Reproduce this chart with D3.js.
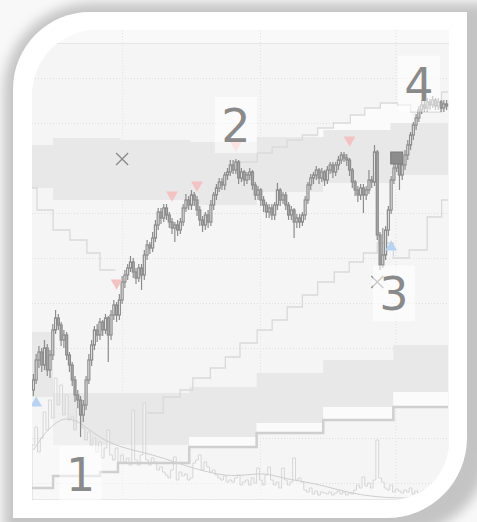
<!DOCTYPE html>
<html lang="en">
<head>
<meta charset="UTF-8">
<title>Price chart</title>
<script src="https://cdn.jsdelivr.net/npm/d3@7"></script>
<style>
  html, body { margin: 0; padding: 0; background: #f8f8f8; }
  svg { display: block; }
</style>
</head>
<body>
<svg id="chart" width="477" height="522"></svg>
<script>
// candles
const opens = [155,160,170,174,167.5,176,165,172.5,185,191,
  187.5,180,182.5,172.5,167.5,160,152.5,150,142.5,147.5,
  160,170,177.5,185,182.5,189,185,191,182.5,192.5,
  197.5,192.5,200,209,212.5,216,219,214,211,216,
  212.5,222.5,227.5,226,231,237.5,244,241,246,242.5,
  239,236,237.5,235,239,246,250,247.5,252.5,250,
  245,240,237.5,242.5,239,247.5,252.5,256,259,257.5,
  262.5,264,267.5,265,269,261,264,260,262.5,264,
  257.5,252.5,255,250,247.5,244,246,242.5,247.5,255,
  250,252.5,247.5,242.5,245,239,241,239,242.5,250,
  257.5,261,262.5,265,261,264,260,265,267.5,264,
  267.5,270,272.5,271,270,265,259,255,252.5,256,
  252.5,255,260,259,274,232.5,217.5,222.5,235,245,
  260,266,270,262.5,267.5,272.5,277.5,282.5,287.5,291,
  295,297.5,296,299,297.5,300,297,299,296,298];
const closes = [160,170,174,167.5,176,165,172.5,185,191,187.5,
  180,182.5,172.5,167.5,160,152.5,150,142.5,147.5,160,
  170,177.5,185,182.5,189,185,191,182.5,192.5,197.5,
  192.5,200,209,212.5,216,219,214,211,216,212.5,
  222.5,227.5,226,231,237.5,244,241,246,242.5,239,
  236,237.5,235,239,246,250,247.5,252.5,250,245,
  240,237.5,242.5,239,247.5,252.5,256,259,257.5,262.5,
  264,267.5,265,269,261,264,260,262.5,264,257.5,
  252.5,255,250,247.5,244,246,242.5,247.5,255,250,
  252.5,247.5,242.5,245,239,241,239,242.5,250,257.5,
  261,262.5,265,261,264,260,265,267.5,264,267.5,
  270,272.5,271,270,265,259,255,252.5,256,252.5,
  255,260,259,274,232.5,217.5,222.5,235,245,260,
  266,270,262.5,267.5,272.5,277.5,282.5,287.5,291,295,
  297.5,296,299,297.5,300,297,299,296,298,297];
const highs = [163,173,177,176,180,178,175,188,195,193,
  189,185,184,174,169,162,155,152,150,162,
  173,180,187,188,191,190,193,192,195,200,
  199,203,212,215,218,222,221,216,218,218,
  225,230,229,234,240,246,246,248,248,244,
  241,239,240,241,248,253,252,255,254,252,
  247,242,244,245,250,254,258,261,261,264,
  266,270,270,270.5,270,266,265,264,266,265,
  259,257,256,252,249,248,248,249,258.5,256,
  254,254,249,247,246,243,243,244,252,259,
  263,264,267,266,266,265,267,269,269,269,
  272,274,274,273,271,266,260,257,258,258,
  257,265,262,277.5,275,234,236,237,247,262,
  268,272,271,269,275,280,284,289,293,297,
  300,300,301,300.5,302,301,301,300,300,300];
const lows = [152,158,166,164,165,162,161,170,183,185,
  177,176,170,164,157,149,146,131.5,139,145,
  158,167,175,179,180,182,183,169,180,190,
  189,190,198,206,210,214,211,208,209,205,
  210,220,223,224,229,235,238,239,240,236,
  233,229,232,233,237,244,245,245,247,242,
  237,234,235,236,237,245,250,254,255,255,
  260,262,263,263,258,259,257,258,260,255,
  250,250,247,244,241,241,240,240,245,247,
  248,245,240,240,231,236,236,237,240,248,
  255,258,260,258,259,257,258,263,261,262,
  265,268,269,267,262,256,252,249,250,243.5,
  250,253,256,257,230,215,216,220,232,243,
  258,264,255,260,265,270,275,280,285,289,
  293,294,294,295,296,295,295,294,294,295];
const volumes = [55,73,48,62,88,70,100,82,122,95,
  115,85,105,80,83,70,92,100,72,60,
  68,55,62,48,58,42,52,70,45,40,
  52,38,45,38,42,35,90,40,35,45,
  97,40,35,42,38,30,33,28,25,22,
  30,43,20,28,24,26,20,22,37,40,
  45,30,38,33,28,30,25,22,20,24,
  18,20,18,22,25,15,18,20,15,22,
  17,32,20,15,25,33,20,15,18,12,
  32,20,15,18,42,20,22,18,10,8,
  12,6,9,5,8,7,6,8,5,7,
  9,6,8,5,7,6,10,15,12,23,
  14,17,12,20,60,22,18,12,10,15,
  8,11,9,7,10,8,12,6,9,7,
  8,10,6,9,7,8,6,9,7,8];

// slow indicator line drawn over the volume pane
const slowIdx = [0,4,8,11,15,18,24,31,39,47,56,63,71,82,86,93,101,110,118,125,130,149];
const slowVals = [50,67,77,82,80,75,62,53,48,42,33,28,23,27,25,20,17,10,5,3,2,1];

// clouds (step segments, index where each starts)
const upCloudIdx = [0,7.6,31.8,57,81,105,129.2];
const upCloudTop = [277.5,281,280,279,281.5,285,288.5];
const upCloudBot = [256,250,250,247.5,254,258.5,262.5];
const lowCloudIdx = [0,7.6,56.7,81,105,130.3];
const lowCloudTop = [184,153.5,156.5,163.5,170,177.5];
const lowCloudBot = [151.5,127.5,131.5,138.5,146.5,154];

// step lines
const fallIdx = [0,1.8,7.6,13.7,19.8,24.5];
const fallVals = [256,245,235,230,223.5,215];
const fallEnd = 30;
const ceilIdx = [74,81.2,86.6,92,97.5,103,108.7,114.8,120,125.6,131.8,136.5,147.7];
const ceilVals = [269,273.5,276.5,280,282.5,286,288.5,292.5,296,298.5,297.5,294,304];
const riseIdx = [41.5,47.3,53.4,58,64.3,69.7,75,81.2,86.6,92,97.5,103,109,114.4,119.5,124.5,130.3,136,142.5,147.7];
const riseVals = [143.5,151.5,155,161,166,171.5,178.5,185,190,196.5,202.5,209,214,219,223.5,228.5,221,225,241.5,250];
const baseIdx = [0,7.6,24.5,31,56.7,81,105,130.3];
const baseVals = [106,112,114,118.5,126.5,133.5,140,146.5];

// signals
const sellIdx = [30,50,59,73,114];
const sellPx = [208.5,252.5,257.5,277.5,280];
const buyIdx = [1,129];
const buyPx = [148.5,226.5];
const crossIdx = [32,124];
const crossPx = [270.5,209];
const boxIdx = [131];
const boxPx = [271];
const labelText = ["1","2","3","4"];
const labelIdx = [17,73,130,139];
const labelPx = [113,287.5,203.3,308.2];

const gridPx = [328.5,311,288.5,266,243.5,221,198.5,176,153.5,131,108.5];
const gridIdx = [32.5,82.2,131];

const n = closes.length;
const svg = d3.select("#chart");
const x = d3.scaleLinear().domain([0, n]).range([32, 448]);
const y = d3.scaleLinear().domain([100, 335]).range([500, 30]);
const yv = d3.scaleLinear().domain([0, 150]).range([500, 350]);
const cx = i => x(i + 0.5);

function framePath(x0, y0, x1, y1, rtl, rbr) {
  return `M${x0},${y0 + rtl}A${rtl},${rtl} 0 0 1 ${x0 + rtl},${y0}L${x1},${y0}L${x1},${y1 - rbr}` +
    `A${rbr},${rbr} 0 0 1 ${x1 - rbr},${y1}L${x0},${y1}Z`;
}
function stepAt(idx, vals, i) {
  let v = vals[0];
  idx.forEach((d, k) => { if (d <= i) v = vals[k]; });
  return v;
}
function stepPoints(idx, vals, end) {
  const pts = idx.map((d, k) => [d, vals[k]]);
  pts.push([end, vals[vals.length - 1]]);
  return pts;
}

const defs = svg.append("defs");
defs.append("filter").attr("id", "shadow")
  .attr("x", "-20%").attr("y", "-20%").attr("width", "140%").attr("height", "140%")
  .append("feGaussianBlur").attr("stdDeviation", 6);
defs.append("clipPath").attr("id", "plotClip")
  .append("path").attr("d", framePath(32, 30, 449, 500, 65, 58));

// frame and shadow
svg.append("rect").attr("width", 477).attr("height", 522).attr("fill", "#f8f8f8");
svg.append("path").attr("d", framePath(4, 3, 490, 535, 88, 90))
  .attr("fill", "#c4c4c4").attr("filter", "url(#shadow)");
svg.append("path").attr("d", framePath(13, 12, 467, 518, 77, 80)).attr("fill", "#ffffff");

const g = svg.append("g").attr("clip-path", "url(#plotClip)");
g.append("rect").attr("x", 32).attr("y", 30).attr("width", 417).attr("height", 470).attr("fill", "#f5f5f5");
g.append("rect").attr("x", 32).attr("y", 30).attr("width", 417).attr("height", y(gridPx[0]) - 30).attr("fill", "#f9f9f9");

// grid
g.selectAll(".hgrid").data(gridPx).join("line")
  .attr("x1", 32).attr("x2", 449).attr("y1", d => y(d) + 0.5).attr("y2", d => y(d) + 0.5)
  .attr("stroke", (d, k) => k === 0 ? "#e6e6e6" : "#dedede")
  .attr("stroke-dasharray", (d, k) => k === 0 ? null : "1,2");
g.selectAll(".vgrid").data(gridIdx).join("line")
  .attr("x1", d => x(d) + 0.5).attr("x2", d => x(d) + 0.5).attr("y1", 30).attr("y2", 500)
  .attr("stroke", "#e2e2e2").attr("stroke-dasharray", "1,2");

// clouds
function cloud(idx, top, bot, fill) {
  const pts = idx.map((d, k) => ({ i: d, t: top[k], b: bot[k] }));
  pts.push({ i: n, t: top[top.length - 1], b: bot[bot.length - 1] });
  g.append("path").datum(pts)
    .attr("d", d3.area().curve(d3.curveStepAfter)
      .x(d => x(d.i)).y0(d => y(d.b)).y1(d => y(d.t)))
    .attr("fill", fill);
}
cloud(upCloudIdx, upCloudTop, upCloudBot, "#e8e8e8");
cloud(lowCloudIdx, lowCloudTop, lowCloudBot, "#e8e8e8");

// pale fills between a step line and a cloud edge
function paleBetween(idxA, valsA, idxB, valsB, from, to, above) {
  const br = Array.from(new Set([from, ...idxA, ...idxB].filter(d => d >= from && d < to))).sort((a, b) => a - b);
  const pts = br.map(i => {
    const a = stepAt(idxA, valsA, i), b = stepAt(idxB, valsB, i);
    return { i, lo: above ? b : Math.min(a, b), hi: above ? Math.max(a, b) : b };
  });
  pts.push({ i: to, lo: pts[pts.length - 1].lo, hi: pts[pts.length - 1].hi });
  g.append("path").datum(pts)
    .attr("d", d3.area().curve(d3.curveStepAfter)
      .x(d => x(d.i)).y0(d => y(d.lo)).y1(d => y(d.hi)))
    .attr("fill", "#fbfbfb");
}
paleBetween(ceilIdx, ceilVals, upCloudIdx, upCloudTop, 103, 137, true);
paleBetween(baseIdx, baseVals, lowCloudIdx, lowCloudBot, 56.7, n, false);

// volume outline and slow line
const volArea = d3.area().curve(d3.curveStepAfter)
  .x(d => x(d[0])).y0(500).y1(d => yv(d[1]));
g.append("path").datum(stepPoints(d3.range(n), volumes, n))
  .attr("d", volArea).attr("fill", "rgba(255,255,255,0.35)")
  .attr("stroke", "#d6d6d6").attr("stroke-width", 1);
g.append("path").datum(slowIdx.map((d, k) => [cx(d), yv(slowVals[k])]))
  .attr("d", d3.line().curve(d3.curveBasis))
  .attr("fill", "none").attr("stroke", "#cdcdcd").attr("stroke-width", 1);

// step lines
const stepLine = d3.line().curve(d3.curveStepAfter).x(d => x(d[0])).y(d => y(d[1]));
g.append("path").datum(stepPoints(fallIdx, fallVals, fallEnd)).attr("d", stepLine)
  .attr("fill", "none").attr("stroke", "#d9d9d9").attr("stroke-width", 1.3);
g.append("path").datum(stepPoints(ceilIdx, ceilVals, n)).attr("d", stepLine)
  .attr("fill", "none").attr("stroke", "#dadada").attr("stroke-width", 1.3);
g.append("path").datum(stepPoints(riseIdx, riseVals, n)).attr("d", stepLine)
  .attr("fill", "none").attr("stroke", "#d9d9d9").attr("stroke-width", 1.3);
g.append("path").datum(stepPoints(baseIdx, baseVals, n)).attr("d", stepLine)
  .attr("fill", "none").attr("stroke", "#cfcfcf").attr("stroke-width", 2.5);

// candles
const bw = (x(1) - x(0)) * 0.72;
const candles = g.append("g").selectAll("g").data(d3.range(n)).join("g");
candles.append("line")
  .attr("x1", i => cx(i)).attr("x2", i => cx(i))
  .attr("y1", i => y(highs[i])).attr("y2", i => y(lows[i]))
  .attr("stroke", "#8c8c8c").attr("stroke-width", 1.2);
candles.append("rect")
  .attr("x", i => cx(i) - bw / 2).attr("width", bw)
  .attr("y", i => y(Math.max(opens[i], closes[i])))
  .attr("height", i => Math.max(1, Math.abs(y(opens[i]) - y(closes[i]))))
  .attr("fill", i => closes[i] >= opens[i] ? "#f4f4f4" : "#adadad")
  .attr("stroke", "#8c8c8c").attr("stroke-width", 1.2);

// signals
const tri = d3.symbol(d3.symbolTriangle, 60);
g.selectAll(".sell").data(sellIdx).join("path")
  .attr("d", tri)
  .attr("transform", (d, k) => `translate(${cx(d)},${y(sellPx[k])}) rotate(180)`)
  .attr("fill", "#f3c2c2");
g.selectAll(".buy").data(buyIdx).join("path")
  .attr("d", tri)
  .attr("transform", (d, k) => `translate(${cx(d)},${y(buyPx[k])})`)
  .attr("fill", "#b7d3f1");
g.selectAll(".cross").data(crossIdx).join("path")
  .attr("d", (d, k) => {
    const px = cx(d), py = y(crossPx[k]), s = 6;
    return `M${px - s},${py - s}L${px + s},${py + s}M${px + s},${py - s}L${px - s},${py + s}`;
  })
  .attr("stroke", "#8a8a8a").attr("stroke-width", 1.3);
g.selectAll(".box").data(boxIdx).join("rect")
  .attr("x", d => cx(d) - 6).attr("y", (d, k) => y(boxPx[k]) - 6)
  .attr("width", 12).attr("height", 12)
  .attr("fill", "#8c8c8c").attr("stroke", "#7a7a7a");

// numbered labels
const labels = g.selectAll(".label").data(labelText).join("g")
  .attr("transform", (d, k) => `translate(${cx(labelIdx[k])},${y(labelPx[k])})`);
labels.append("rect")
  .attr("x", -21).attr("y", -28).attr("width", 42).attr("height", 56)
  .attr("fill", "rgba(255,255,255,0.55)");
labels.append("text")
  .attr("text-anchor", "middle").attr("y", 17)
  .attr("font-family", "DejaVu Sans, sans-serif").attr("font-size", 46)
  .attr("fill", "#8a8a8a").text(d => d);
</script>
</body>
</html>
